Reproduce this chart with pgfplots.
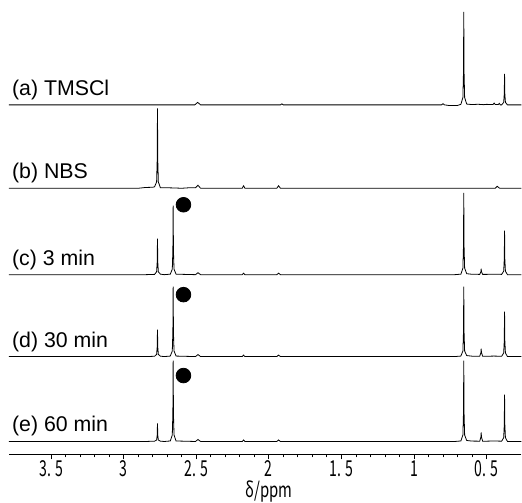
\documentclass[border=0pt]{standalone}
\usepackage{pgfplots}
\pgfplotsset{compat=1.18}
\usepackage{pgfplotstable}
\usepackage{graphicx}
\usepackage{fontspec}
\setmainfont{Liberation Sans}
\newfontfamily\jp{Noto Sans CJK JP}
\newcommand{\tl}[1]{\scalebox{0.64}[1]{#1}}

% spectra: x = ppm, y = intensity (px above own baseline)
\pgfplotstableread{
x y
0.26 0
0.356 0
0.370 2.5
0.374 10.9
0.376 31
0.378 10.9
0.382 2.5
0.396 0
0.405 0
0.412 1.5
0.419 0.3
0.440 0.3
0.448 1.8
0.456 0.3
0.50 0.5
0.52 0.2
0.56 0.6
0.60 0.3
0.637 0.8
0.651 7.4
0.655 32.6
0.657 93
0.659 32.6
0.663 7.4
0.677 0.5
0.70 -0.6
0.76 -0.6
0.79 0
0.80 1.2
0.81 0
1.90 0
1.91 1
1.92 0
2.47 0
2.49 2.5
2.51 0
3.79 0
}\specA

\pgfplotstableread{
x y
0.26 0
0.41 0
0.427 2
0.44 0
1.92 0
1.933 2.5
1.945 0
2.165 0
2.174 2.5
2.183 0
2.47 0
2.488 3
2.505 0.5
2.55 0.5
2.60 0
2.65 0.3
2.70 0.5
2.747 0.6
2.761 6.4
2.765 28
2.767 80
2.769 28
2.773 6.4
2.787 1.5
2.80 1
2.85 0.8
2.90 0
3.79 0
}\specB

\pgfplotstableread{
x y
0.26 0
0.356 0
0.370 3.5
0.374 15.4
0.376 44
0.378 15.4
0.382 3.5
0.396 0.3
0.45 0.5
0.50 0.3
0.527 0.3
0.535 3
0.537 6
0.539 3
0.547 0.3
0.60 0.4
0.637 1
0.651 6.6
0.655 28.7
0.657 82
0.659 28.7
0.663 6.6
0.677 0.5
0.72 0
1.92 0
1.933 1.5
1.945 0
2.165 0
2.174 1.5
2.183 0
2.47 0
2.488 2
2.505 0
2.639 0.5
2.653 5.5
2.657 24
2.659 69
2.661 24
2.665 5.5
2.679 0.5
2.72 0
2.747 0.5
2.761 2.9
2.765 12.6
2.767 36
2.769 12.6
2.773 2.9
2.787 0.3
2.85 0
3.79 0
}\specC

\pgfplotstableread{
x y
0.26 0
0.356 0
0.370 3.6
0.374 15.8
0.376 45
0.378 15.8
0.382 3.6
0.396 0.3
0.45 0.5
0.50 0.3
0.527 0.3
0.535 4
0.537 8
0.539 4
0.547 0.3
0.60 0.4
0.637 1
0.651 5.6
0.655 24.5
0.657 70
0.659 24.5
0.663 5.6
0.677 0.5
0.72 0
1.92 0
1.933 1.5
1.945 0
2.165 0
2.174 1.5
2.183 0
2.47 0
2.488 2
2.505 0
2.639 0.5
2.653 5.6
2.657 24.5
2.659 70
2.661 24.5
2.665 5.6
2.679 0.5
2.72 0
2.747 0.4
2.761 2.2
2.765 9.5
2.767 27
2.769 9.5
2.773 2.2
2.787 0.3
2.85 0
3.79 0
}\specD

\pgfplotstableread{
x y
0.26 0
0.356 0
0.370 3.8
0.374 16.5
0.376 47
0.378 16.5
0.382 3.8
0.396 0.3
0.45 0.5
0.50 0.3
0.527 0.3
0.535 4.5
0.537 9
0.539 4.5
0.547 0.3
0.60 0.4
0.637 1
0.651 6.5
0.655 28.4
0.657 81
0.659 28.4
0.663 6.5
0.677 0.5
0.72 0
1.92 0
1.933 1.5
1.945 0
2.165 0
2.174 1.5
2.183 0
2.47 0
2.488 2
2.505 0
2.639 0.5
2.653 6.5
2.657 28.4
2.659 81
2.661 28.4
2.665 6.5
2.679 0.5
2.72 0
2.747 0.3
2.761 1.5
2.765 6.3
2.767 18
2.769 6.3
2.773 1.5
2.787 0.3
2.85 0
3.79 0
}\specE

\begin{document}
\begin{tikzpicture}
\begin{axis}[
  scale only axis,
  width=384.75pt, height=341.25pt,
  xmin=0.26, xmax=3.79, ymin=0, ymax=455,
  x dir=reverse,
  axis x line*=bottom,
  hide y axis,
  x axis line style={-, line width=0.9pt},
  xtick={0.5,1,1.5,2,2.5,3,3.5},
  xticklabels={\tl{0.\hspace{0.3em}5},\tl{1},\tl{1.\hspace{0.3em}5},\tl{2},\tl{2.\hspace{0.3em}5},\tl{3},\tl{3.\hspace{0.3em}5}},
  minor x tick num=4,
  tick align=outside,
  major tick length=3.75pt,
  minor tick length=2.25pt,
  tick style={line width=0.6pt, black},
  xticklabel style={font=\jp\fontsize{16.5}{16.5}\selectfont, inner sep=0pt, text depth=0pt, yshift=-0.5pt},
  xlabel={\scalebox{0.72}[1]{δ/ppm}},
  xlabel style={font=\jp\fontsize{15.5}{15.5}\selectfont, inner sep=0pt, at={(axis description cs:0.507,0)}, anchor=center, yshift=-28pt},
  clip=false,
  every axis plot/.append style={black, line width=0.6pt},
]
\addplot[black] table[x=x, y expr=\thisrow{y}+350] {\specA};
\addplot[black] table[x=x, y expr=\thisrow{y}+266.5] {\specB};
\addplot[black] table[x=x, y expr=\thisrow{y}+180] {\specC};
\addplot[black] table[x=x, y expr=\thisrow{y}+98] {\specD};
\addplot[black] table[x=x, y expr=\thisrow{y}+13] {\specE};
\addplot[only marks, mark=*, mark size=5.5pt, black] coordinates {(2.588,250) (2.588,160) (2.588,79)};

\begin{scope}[every node/.style={anchor=base west, inner sep=0pt, font=\fontsize{16}{18}\selectfont}]
\node at (axis cs:3.77,359.5) {(a) TMSCl};
\node at (axis cs:3.77,276) {(b) NBS};
\node at (axis cs:3.77,189.5) {(c) 3 min};
\node at (axis cs:3.77,107.5) {(d) 30 min};
\node at (axis cs:3.77,22.5) {(e) 60 min};
\end{scope}
\end{axis}
\path (current axis.south west) ++(-6.75pt,-31.5pt);
\path (current axis.north east);
\end{tikzpicture}
\end{document}
